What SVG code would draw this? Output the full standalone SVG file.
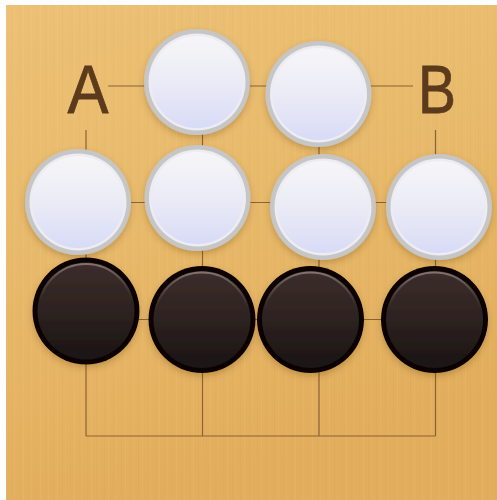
<svg xmlns="http://www.w3.org/2000/svg" width="497" height="500" viewBox="0 0 497 500">
  <defs>
    <linearGradient id="wood" x1="0" y1="0" x2="0.3" y2="1">
      <stop offset="0" stop-color="#ecc176"/>
      <stop offset="0.5" stop-color="#e8b96a"/>
      <stop offset="1" stop-color="#e2ad5c"/>
    </linearGradient>
    <pattern id="grain" width="17" height="500" patternUnits="userSpaceOnUse">
      <rect x="2" y="0" width="1" height="500" fill="#b07a30" opacity="0.04"/>
      <rect x="6" y="0" width="1" height="500" fill="#fff2c8" opacity="0.06"/>
      <rect x="11" y="0" width="1" height="500" fill="#b07a30" opacity="0.03"/>
      <rect x="14" y="0" width="1" height="500" fill="#fff2c8" opacity="0.05"/>
    </pattern>
    <linearGradient id="whiteFill" x1="0" y1="0" x2="0" y2="1">
      <stop offset="0" stop-color="#f6f6f8"/>
      <stop offset="0.5" stop-color="#ebebf6"/>
      <stop offset="1" stop-color="#d8dbf6"/>
    </linearGradient>
    <linearGradient id="blackFill" x1="0" y1="0" x2="0" y2="1">
      <stop offset="0" stop-color="#3c2e2c"/>
      <stop offset="0.5" stop-color="#2d2220"/>
      <stop offset="1" stop-color="#1a1412"/>
    </linearGradient>
    <linearGradient id="blackHi" x1="0" y1="0" x2="0" y2="1">
      <stop offset="0" stop-color="#8a7a78" stop-opacity="0.9"/>
      <stop offset="0.4" stop-color="#5a4a48" stop-opacity="0"/>
    </linearGradient>
    <filter id="shadow" x="-20%" y="-20%" width="140%" height="150%">
      <feDropShadow dx="0" dy="3" stdDeviation="3" flood-color="#5a3a10" flood-opacity="0.28"/>
    </filter>
    <g id="wstone">
      <circle r="53" fill="#c6c6c6"/>
      <circle r="48.5" fill="#ececf2"/>
      <circle r="46" fill="url(#whiteFill)"/>
    </g>
    <g id="bstone">
      <circle r="53.5" fill="#070505"/>
      <circle r="48.5" fill="url(#blackFill)"/>
      <circle r="47" fill="none" stroke="url(#blackHi)" stroke-width="2"/>
    </g>
  </defs>
  <style>
    .grid line { stroke: #8c6236; stroke-width: 1.2; }
    .label { font-family: "Liberation Sans", Arial, sans-serif; font-size: 68px; fill: #5c3a1c; stroke: #5c3a1c; stroke-width: 0.8; text-anchor: middle; }
    .stone { filter: url(#shadow); }
  </style>
  <rect x="0" y="0" width="497" height="500" fill="#ffffff"/>
  <rect x="6" y="5" width="491" height="495" fill="url(#wood)"/>
  <rect x="6" y="5" width="491" height="495" fill="url(#grain)"/>

  <g id="connectors" class="grid">
    <line x1="108" y1="86" x2="413" y2="86"/>
    <line x1="86" y1="202.5" x2="435.5" y2="202.5"/>
    <line x1="86" y1="319.5" x2="435.5" y2="319.5"/>
    <line x1="86" y1="436" x2="435.5" y2="436"/>
    <line x1="86" y1="130" x2="86" y2="436"/>
    <line x1="202.5" y1="86" x2="202.5" y2="436"/>
    <line x1="319" y1="86" x2="319" y2="436"/>
    <line x1="435.5" y1="130" x2="435.5" y2="436"/>
  </g>

  <g id="label-A"><text class="label" x="88" y="112.5" textLength="41" lengthAdjust="spacingAndGlyphs">A</text></g>
  <g id="label-B"><text class="label" x="437" y="112.5" textLength="38" lengthAdjust="spacingAndGlyphs">B</text></g>

  <g id="w1" class="stone"><use href="#wstone" x="197" y="82"/></g>
  <g id="w2" class="stone"><use href="#wstone" x="318.5" y="94"/></g>
  <g id="w3" class="stone"><use href="#wstone" x="78" y="202"/></g>
  <g id="w4" class="stone"><use href="#wstone" x="197.5" y="198"/></g>
  <g id="w5" class="stone"><use href="#wstone" x="323" y="207"/></g>
  <g id="w6" class="stone"><use href="#wstone" x="439" y="207"/></g>

  <g id="b1" class="stone"><use href="#bstone" x="86" y="311"/></g>
  <g id="b2" class="stone"><use href="#bstone" x="202" y="319.5"/></g>
  <g id="b3" class="stone"><use href="#bstone" x="310.5" y="319.5"/></g>
  <g id="b4" class="stone"><use href="#bstone" x="434.5" y="319.5"/></g>
</svg>
